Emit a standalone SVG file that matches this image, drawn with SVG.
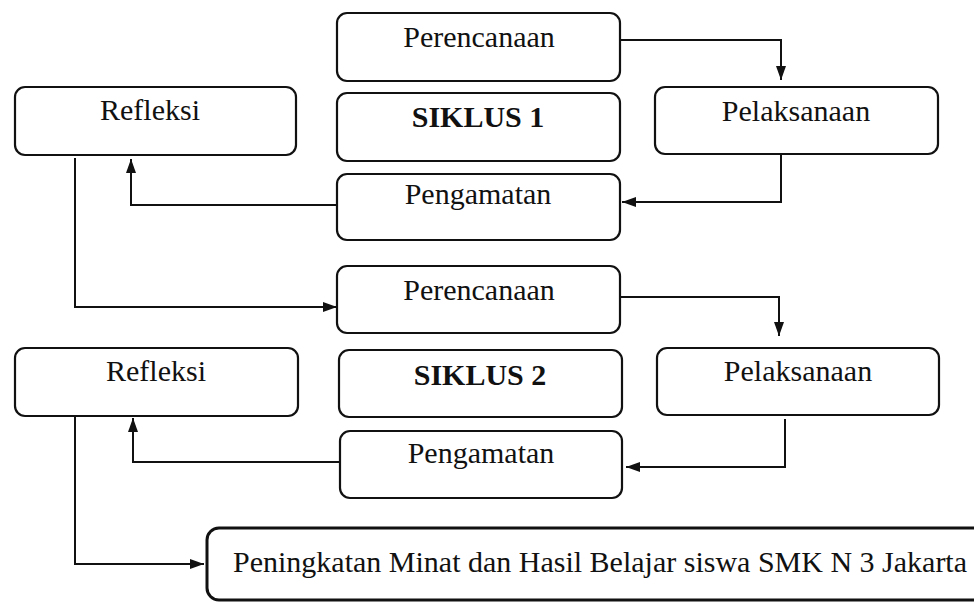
<svg xmlns="http://www.w3.org/2000/svg" width="974" height="602" viewBox="0 0 974 602">
<style>
.box{fill:#fff;stroke:#111;stroke-width:2.2}
.fin{fill:#fff;stroke:#111;stroke-width:3}
.t{font-family:"Liberation Serif","Times New Roman",serif;font-size:30px;fill:#111;text-anchor:middle}
.b{font-weight:bold}
.c{fill:none;stroke:#111;stroke-width:2}
</style>
<defs>
<marker id="ah" markerUnits="userSpaceOnUse" markerWidth="16" markerHeight="12" refX="14" refY="5" orient="auto">
<path d="M0,0 L14,5 L0,10 z" fill="#111"/>
</marker>
</defs>
<rect width="974" height="602" fill="#fff"/>
<g id="connectors">
<path class="c" d="M620,40 H781 V80" marker-end="url(#ah)"/>
<path class="c" d="M781,154 V202 H622" marker-end="url(#ah)"/>
<path class="c" d="M337,205 H131 V159" marker-end="url(#ah)"/>
<path class="c" d="M75,158 V307 H337" marker-end="url(#ah)"/>
<path class="c" d="M620,297 H779 V336" marker-end="url(#ah)"/>
<path class="c" d="M785,419 V467 H626" marker-end="url(#ah)"/>
<path class="c" d="M340,462 H133 V418" marker-end="url(#ah)"/>
<path class="c" d="M75,415 V564 H204" marker-end="url(#ah)"/>
</g>
<g id="perencanaan1"><rect class="box" x="337" y="13" width="283" height="68" rx="10"/><text class="t" x="479" y="47">Perencanaan</text></g>
<g id="siklus1"><rect class="box" x="337" y="93" width="283" height="68" rx="10"/><text class="t b" x="478" y="127">SIKLUS 1</text></g>
<g id="pengamatan1"><rect class="box" x="337" y="174" width="283" height="66" rx="10"/><text class="t" x="478" y="204">Pengamatan</text></g>
<g id="pelaksanaan1"><rect class="box" x="655" y="87" width="283" height="67" rx="10"/><text class="t" x="796" y="121">Pelaksanaan</text></g>
<g id="refleksi1"><rect class="box" x="15" y="87" width="281" height="68" rx="10"/><text class="t" x="150" y="120">Refleksi</text></g>
<g id="perencanaan2"><rect class="box" x="337" y="266" width="283" height="67" rx="10"/><text class="t" x="479" y="300">Perencanaan</text></g>
<g id="siklus2"><rect class="box" x="339" y="350" width="283" height="67" rx="10"/><text class="t b" x="480" y="385">SIKLUS 2</text></g>
<g id="pengamatan2"><rect class="box" x="340" y="431" width="282" height="67" rx="10"/><text class="t" x="481" y="463">Pengamatan</text></g>
<g id="pelaksanaan2"><rect class="box" x="657" y="348" width="282" height="67" rx="10"/><text class="t" x="798" y="381">Pelaksanaan</text></g>
<g id="refleksi2"><rect class="box" x="15" y="348" width="283" height="68" rx="10"/><text class="t" x="156" y="381">Refleksi</text></g>
<g id="hasil"><rect class="fin" x="207" y="528" width="800" height="72" rx="12"/><text class="t" x="233" y="572" style="text-anchor:start">Peningkatan Minat dan Hasil Belajar siswa SMK N 3 Jakarta</text></g>
</svg>
